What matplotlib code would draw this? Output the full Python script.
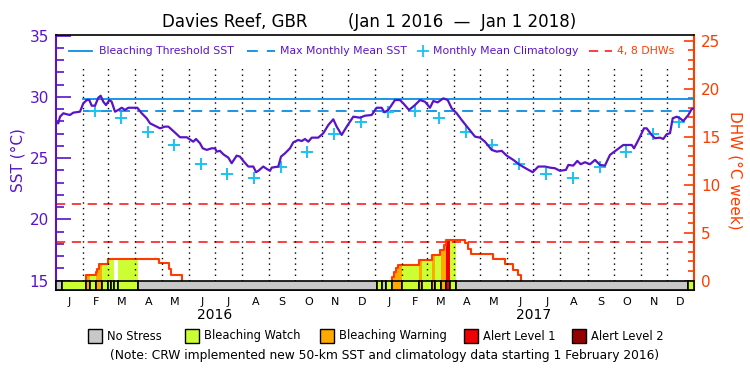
import numpy as np
import matplotlib
matplotlib.use('Agg')
import matplotlib.pyplot as plt
import pandas as pd
from matplotlib.lines import Line2D
from matplotlib.patches import Rectangle
from matplotlib.transforms import blended_transform_factory

# ---------------- data ----------------
# days since 1 Jan 2016
sst_day = [0, 2.6, 4.6, 8.4, 12.3, 16.0, 19.8, 27.5, 31.3, 35.2, 38.2, 40.9, 44.7, 48.5,
           51.2, 54.2, 57.3, 61.1, 63.8, 67.6, 71.4, 75.3, 79.1, 82.8, 93.2, 98.2, 103.9,
           107.7, 115.4, 119.2, 124.9, 128.7, 134.4, 142.1, 149.8, 157.3, 160.4, 165.0,
           168.1, 172.7, 178.4, 182.2, 184.1, 187.9, 191.7, 197.4, 201.3, 207.0, 210.8,
           214.6, 220.3, 226.1, 229.2, 231.8, 237.5, 241.4, 245.2, 247.1, 254.7, 257.8,
           262.4, 268.1, 271.9, 277.6, 281.5, 285.3, 289.1, 293.0, 300.5, 306.3, 312.0,
           317.7, 321.6, 327.3, 333.1, 340.6, 348.3, 354.0, 361.7, 367.4, 373.2, 376.2,
           380.7, 388.4, 394.1, 397.9, 404.5, 411.3, 417.1, 422.8, 428.5, 432.3, 437.3,
           443.8, 448.8, 453.4, 459.1, 464.8, 472.4, 480.1, 485.8, 491.5, 499.2, 504.9,
           510.7, 516.4, 524.0, 531.6, 539.3, 546.2, 552.6, 560.3, 566.0, 571.7, 577.5,
           584.3, 587.0, 592.7, 597.3, 601.2, 606.1, 611.8, 617.6, 623.3, 629.0, 634.7,
           642.4, 650.0, 659.6, 662.3, 668.3, 673.7, 676.8, 682.5, 686.3, 692.0, 695.8,
           699.7, 703.5, 706.6, 711.2, 715.0, 718.8, 724.5, 728.4, 731]
sst_val = [27.93, 27.85, 28.39, 28.67, 28.59, 28.53, 28.72, 28.80, 29.48, 29.75, 29.75,
           29.29, 29.29, 29.94, 30.10, 29.61, 29.34, 29.75, 29.61, 28.80, 28.94, 29.12,
           28.94, 29.12, 29.12, 28.67, 28.26, 27.85, 27.58, 27.44, 27.58, 27.58, 27.22,
           26.71, 26.71, 26.35, 26.57, 26.22, 25.81, 25.68, 25.81, 25.81, 25.54, 25.60,
           25.32, 25.05, 24.59, 25.21, 25.13, 24.78, 24.32, 24.32, 23.86, 23.97, 24.32,
           24.13, 23.97, 24.23, 24.32, 25.13, 25.40, 25.81, 26.30, 26.49, 26.40, 26.57,
           26.35, 26.68, 26.68, 27.04, 27.71, 28.18, 27.58, 26.90, 27.58, 28.39, 28.31,
           28.47, 28.53, 29.12, 29.12, 28.75, 28.94, 29.75, 29.75, 29.48, 28.94, 29.34,
           29.75, 29.61, 29.12, 29.67, 29.56, 29.89, 29.75, 29.07, 28.67, 28.12, 27.44,
           26.76, 26.68, 26.35, 25.68, 25.54, 25.60, 25.21, 24.86, 24.45, 24.13, 23.86,
           24.32, 24.32, 24.23, 24.18, 23.97, 24.05, 24.45, 24.40, 24.78, 24.51, 24.67,
           24.51, 24.86, 24.45, 24.40, 25.27, 25.68, 26.08, 26.08, 25.81, 26.63, 27.44,
           27.44, 26.90, 26.63, 26.68, 26.57, 26.96, 27.04, 28.26, 28.39, 28.26, 28.04,
           28.53, 29.02, 29.07]

mmm_sst = 28.83
threshold_sst = 29.83
dhw_levels = [4, 8]
threshold_start_day = 31  # 1 Feb 2016

# monthly mean climatology, Feb 2016 .. Dec 2017 (plotted on the 15th)
clim_months = pd.date_range('2016-02-01', '2017-12-01', freq='MS') + pd.Timedelta(days=14)
clim_val = [28.85, 28.26, 27.17, 26.08, 24.51, 23.70, 23.42, 24.32, 25.49, 26.96, 27.98,
            28.80, 28.85, 28.26, 27.17, 26.08, 24.51, 23.70, 23.42, 24.32, 25.49, 26.96, 27.98]

# degree heating weeks (step knots)
dhw_2016_day = [34.4, 45.8, 47.5, 49.3, 60.0, 118.4, 129.8, 131.8, 144.0]
dhw_2016_val = [0.57, 0.9, 1.2, 1.77, 2.31, 1.8, 1.2, 0.57, 0]
dhw_2017_day = [384.6, 387.3, 389.2, 391.5, 416.2, 430.5, 439.9, 444.6, 446.8, 468.6, 471.7,
                475.5, 501.0, 514.4, 523.9, 529.0, 532.4]
dhw_2017_val = [0.4, 0.92, 1.27, 1.6, 2.13, 2.66, 3.18, 3.7, 4.29, 3.94, 3.25, 2.76, 2.21,
                1.69, 1.09, 0.57, 0]

# stress level segments: 0 none, 1 watch, 2 warning, 3 alert1, 4 alert2
alert_start = [0, 7.2, 34.4, 39.0, 45.8, 53.0, 60.0, 62.7, 66.8, 70.7, 94.3, 367.4,
               373.9, 377.7, 384.6, 396.1, 416.2, 419.7, 430.5, 434.2, 441.1, 446.8, 451.4,
               458.3, 724.4]
alert_end = [7.2, 34.4, 39.0, 45.8, 53.0, 60.0, 62.7, 66.8, 70.7, 94.3, 367.4, 373.9,
             377.7, 384.6, 396.1, 416.2, 419.7, 430.5, 434.2, 441.1, 446.8, 451.4, 458.3,
             724.4, 731]
alert_level = [0, 1, 2, 1, 2, 1, 1, 1, 1, 1, 0, 1, 0, 1, 2, 1, 2, 1, 2, 1, 2, 3, 1, 0, 1]
fill_gap = [(66.8, 70.7)]

level_names = ['No Stress', 'Bleaching Watch', 'Bleaching Warning', 'Alert Level 1', 'Alert Level 2']
level_colors = ['#C8C8C8', '#CCFF33', '#FFAA00', '#F00000', '#960000']

month_letters = list('JFMAMJJASOND') * 2
year_labels = ['2016', '2017']

# ---------------- style ----------------
PURPLE = '#5A14C8'
ORANGE = '#FF3C00'
BLUE = '#0A8CE6'
CYAN = '#18C4F2'
RED = '#FF1E1E'

W, H = 750, 375
def fx(x): return x / W
def fy(y): return 1 - y / H

fig = plt.figure(figsize=(7.5, 3.75), dpi=100)
L, R, T, B = 56, 694, 35, 290.3
ax = fig.add_axes([fx(L), fy(B), (R - L) / W, (B - T) / H])
ax2 = ax.twinx()

px_per_sst = 12.247
px_per_dhw = 9.6
y0 = 14.215
y1 = y0 + (B - T) / px_per_sst
ax.set_ylim(y0, y1)
d0 = -(15 - y0) * px_per_sst / px_per_dhw
ax2.set_ylim(d0, d0 + (B - T) / px_per_dhw)
ax.set_xlim(0, 731)

ax.set_zorder(ax2.get_zorder() + 1)
ax.patch.set_visible(False)

# month boundaries
mstarts = pd.date_range('2016-01-01', '2018-01-01', freq='MS')
mday = np.array([(d - pd.Timestamp('2016-01-01')).days for d in mstarts], dtype=float)
mid = (mday[:-1] + mday[1:]) / 2

# dotted month lines
for d in mday[1:-1]:
    ax.plot([d, d], [15, 32.47], color='black', lw=1.0, ls=(0, (1, 3)), zorder=1)

# ---- DHW fill & line (ax2) ----
def dhw_at(t, days, vals):
    i = np.searchsorted(days, t, side='right') - 1
    return 0.0 if i < 0 else vals[i]

for days, vals in [(dhw_2016_day, dhw_2016_val), (dhw_2017_day, dhw_2017_val)]:
    for s, e, lev in zip(alert_start, alert_end, alert_level):
        if lev == 0:
            continue
        xs = [s] + [d for d in days if s < d < e] + [e]
        ys = [dhw_at(x, days, vals) for x in xs]
        if max(ys) <= 0:
            continue
        ax2.fill_between(xs, 0, ys, step='post', color=level_colors[lev], lw=0, zorder=1)
    for gs, ge in fill_gap:
        xs = [gs] + [d for d in days if gs < d < ge] + [ge]
        ys = [dhw_at(x, days, vals) for x in xs]
        if max(ys) > 0:
            ax2.fill_between(xs, 0, ys, step='post', color='white', lw=0, zorder=1.5)
    ax2.plot([days[0]] + list(days), [0] + list(vals), drawstyle='steps-post',
             color=ORANGE, lw=1.5, zorder=3)

for lv in dhw_levels:
    ax2.axhline(lv, color=RED, lw=1.2, ls=(0, (5.5, 4)), zorder=2)

# ---- SST elements (ax) ----
ax.plot([threshold_start_day, 731], [threshold_sst] * 2, color=BLUE, lw=1.3, zorder=3)
ax.plot([threshold_start_day, 731], [mmm_sst] * 2, color=BLUE, lw=1.3, ls=(0, (6, 4)), zorder=3)
clim_x = [(d - pd.Timestamp('2016-01-01')).days for d in clim_months]
ax.plot(clim_x, clim_val, ls='none', marker='+', ms=9, mew=1.4, color=CYAN, zorder=4)
ax.plot(sst_day, sst_val, color=PURPLE, lw=1.6, zorder=5)

# stress bar
for s, e, lev in zip(alert_start, alert_end, alert_level):
    ax.add_patch(Rectangle((s, y0), e - s, 15 - y0, facecolor=level_colors[lev],
                           edgecolor='black', lw=1.2, zorder=6, clip_on=False))

# ---- axes styling ----
ax.spines['right'].set_visible(False)
ax.spines['left'].set_color(PURPLE)
ax.spines['left'].set_linewidth(1.5)
ax.spines['top'].set_linewidth(1.2)
ax.spines['bottom'].set_linewidth(1.2)
for sp in ['left', 'top', 'bottom']:
    ax2.spines[sp].set_visible(False)
ax2.spines['right'].set_color(ORANGE)
ax2.spines['right'].set_linewidth(1.5)

ax.set_yticks([15, 20, 25, 30, 35])
ax.set_yticks(np.arange(16, 35, 1), minor=True)
ax.tick_params(axis='y', which='major', direction='in', length=10.5, width=1.2,
               colors=PURPLE, labelsize=11, pad=5)
ax.tick_params(axis='y', which='minor', direction='in', length=5.5, width=1.2, colors=PURPLE)
ax2.set_yticks([0, 5, 10, 15, 20, 25])
ax2.set_yticks(np.arange(-1, 26, 1), minor=True)
ax2.tick_params(axis='y', which='major', direction='in', length=7, width=1.2,
                colors=ORANGE, labelsize=11, pad=5)
ax2.tick_params(axis='y', which='minor', direction='in', length=4.5, width=1.2, colors=ORANGE)

ax.set_xticks(mid)
ax.set_xticklabels(month_letters)
ax.tick_params(axis='x', length=0, labelsize=8, pad=5)
ax.set_xticks([], minor=True)

tr = blended_transform_factory(ax.transData, fig.transFigure)
for yr, d in zip(year_labels, [182, 547]):
    ax.text(d, fy(315), yr, transform=tr, ha='center', va='center', fontsize=10)

# axis labels
fig.text(fx(18), fy(160), 'SST (°C)', rotation=90, color=PURPLE, fontsize=11,
         ha='center', va='center')
fig.text(fx(735), fy(170), 'DHW (°C week)', rotation=270, color=ORANGE, fontsize=11,
         ha='center', va='center')

# title
fig.text(fx(162), fy(22), 'Davies Reef, GBR', fontsize=12, ha='left', va='center')
fig.text(fx(348), fy(22), '(Jan 1 2016  —  Jan 1 2018)', fontsize=12, ha='left', va='center')

# in-plot legend
ly = fy(51)
fs_leg = 7.8
fig.add_artist(Line2D([fx(69), fx(92)], [ly, ly], color=BLUE, lw=1.3))
fig.text(fx(99), ly, 'Bleaching Threshold SST', color=PURPLE, fontsize=fs_leg, va='center')
fig.add_artist(Line2D([fx(247), fx(275)], [ly, ly], color=BLUE, lw=1.3, ls=(0, (6, 5))))
fig.text(fx(280), ly, 'Max Monthly Mean SST', color=PURPLE, fontsize=fs_leg, va='center')
fig.add_artist(Line2D([fx(423)], [ly], color=CYAN, marker='+', ms=8, mew=1.3, ls='none'))
fig.text(fx(433), ly, 'Monthly Mean Climatology', color=PURPLE, fontsize=fs_leg, va='center')
fig.add_artist(Line2D([fx(589), fx(612)], [ly, ly], color=RED, lw=1.2, ls=(0, (5.5, 4))))
fig.text(fx(617), ly, '4, 8 DHWs', color=ORANGE, fontsize=fs_leg, va='center')

# bottom legend
box_x = [88, 185, 320, 464, 572]
by = 336
for bx, name, col in zip(box_x, level_names, level_colors):
    fig.add_artist(Rectangle((fx(bx), fy(by + 7)), 14 / W, 14 / H, facecolor=col,
                             edgecolor='black', lw=1.0, transform=fig.transFigure))
    fig.text(fx(bx + 19), fy(by), name, fontsize=8.3, ha='left', va='center')

fig.text(0.5 * (77 + 692) / W, fy(355),
         '(Note: CRW implemented new 50-km SST and climatology data starting 1 February 2016)',
         fontsize=8.8, ha='center', va='center')

fig.savefig('out.png', dpi=100)
